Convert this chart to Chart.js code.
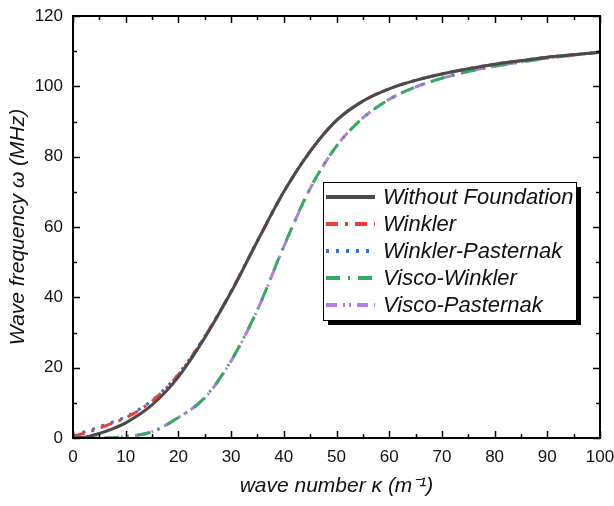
<!DOCTYPE html>
<html lang="en">
  <head>
    <meta charset="UTF-8" />
    <title>Wave frequency vs wave number</title>
    <script src="https://cdn.jsdelivr.net/npm/chart.js"></script>
    <style>
      html, body { margin: 0; padding: 0; background: #fff; }
      #chartContainer { width: 614px; height: 506px; }
    </style>
  </head>

  <body>
    <div id="chartContainer">
      <canvas id="waveChart"></canvas>
    </div>

    <script>
      // wave number (m^-1)
      const kappa = [0, 2.5, 5, 7.5, 10, 15, 20, 25, 30, 35, 40, 45, 50, 55, 60, 65, 70, 75, 80, 85, 90, 95, 100];

      // wave frequency (MHz) per foundation model
      const withoutFoundation = [0, 0.3, 1.3, 2.6, 4.3, 9.4, 17.4, 28.5, 41.5, 56, 70, 81.5, 90.3, 95.8, 99.3, 101.7, 103.5, 105, 106.3, 107.3, 108.3, 109, 109.7];
      const winkler = [0.5, 1.5, 2.8, 4.2, 5.7, 10.5, 18, 28.8, 41.6, 56, 70, 81.5, 90.3, 95.8, 99.3, 101.7, 103.5, 105, 106.3, 107.3, 108.3, 109, 109.7];
      const winklerPasternak = [0.7, 1.9, 3.2, 4.5, 6, 10.7, 18.2, 28.9, 41.7, 56.1, 70, 81.5, 90.3, 95.8, 99.3, 101.7, 103.5, 105, 106.3, 107.3, 108.3, 109, 109.7];
      const viscoWinkler = [0, 0, 0, 0.1, 0.4, 1.8, 5.8, 11.5, 22, 36.5, 54.5, 71, 83, 91, 96.3, 99.8, 102.3, 104.2, 105.7, 106.9, 108, 108.9, 109.7];
      const viscoPasternak = [0, 0, 0, 0.1, 0.4, 1.8, 5.8, 11.4, 21.9, 36.4, 54.4, 70.9, 83, 91, 96.3, 99.8, 102.3, 104.2, 105.7, 106.9, 108, 108.9, 109.7];

      const xTicks = [0, 10, 20, 30, 40, 50, 60, 70, 80, 90, 100];
      const yTicks = [0, 20, 40, 60, 80, 100, 120];

      const seriesNames = ["Without Foundation", "Winkler", "Winkler-Pasternak", "Visco-Winkler", "Visco-Pasternak"];
      const seriesValues = [withoutFoundation, winkler, winklerPasternak, viscoWinkler, viscoPasternak];
      const seriesColors = ["#4a4a4a", "#ec3f3c", "#2d74db", "#35a862", "#b27ce2"];
      const seriesDashes = [[], [12, 7, 3, 7], [3, 7], [14, 8, 2, 8], [11, 6, 2, 4, 2, 6]];

      const datasets = seriesNames.map((name, i) => ({
        label: name,
        data: kappa.map((k, j) => ({ x: k, y: seriesValues[i][j] })),
        borderColor: seriesColors[i],
        borderWidth: 3,
        borderDash: seriesDashes[i],
        pointRadius: 0,
        fill: false,
        cubicInterpolationMode: "monotone",
      }));

      // frame with inward ticks on all four sides
      const framePlugin = {
        id: "frame",
        afterDatasetsDraw(chart) {
          const { ctx, chartArea: a, scales } = chart;
          ctx.save();
          ctx.strokeStyle = "#000";
          ctx.lineWidth = 2;
          ctx.strokeRect(a.left, a.top, a.right - a.left, a.bottom - a.top);
          ctx.lineWidth = 1.5;
          ctx.beginPath();
          for (let v = 0; v <= 100; v += 5) {
            const px = Math.round(scales.x.getPixelForValue(v)) + 0.5;
            const len = v % 10 === 0 ? 7 : 4;
            ctx.moveTo(px, a.bottom); ctx.lineTo(px, a.bottom - len);
            ctx.moveTo(px, a.top); ctx.lineTo(px, a.top + len);
          }
          for (let v = 0; v <= 120; v += 10) {
            const py = Math.round(scales.y.getPixelForValue(v)) + 0.5;
            const len = v % 20 === 0 ? 7 : 4;
            ctx.moveTo(a.left, py); ctx.lineTo(a.left + len, py);
            ctx.moveTo(a.right, py); ctx.lineTo(a.right - len, py);
          }
          ctx.stroke();
          ctx.restore();
        },
      };

      // boxed legend with drop shadow inside the plot
      const legendBoxPlugin = {
        id: "legendBox",
        afterDraw(chart) {
          const ctx = chart.ctx;
          const box = { x: 323, y: 182, w: 253, h: 138 };
          ctx.save();
          ctx.fillStyle = "#000";
          ctx.fillRect(box.x + 5, box.y + 5, box.w, box.h);
          ctx.fillStyle = "#fff";
          ctx.fillRect(box.x, box.y, box.w, box.h);
          ctx.strokeStyle = "#000";
          ctx.lineWidth = 1;
          ctx.strokeRect(box.x + 0.5, box.y + 0.5, box.w, box.h);
          ctx.font = "italic 22px 'Liberation Sans', Arial, sans-serif";
          ctx.textBaseline = "middle";
          chart.data.datasets.forEach((ds, i) => {
            const cy = 197 + i * 27;
            ctx.strokeStyle = ds.borderColor;
            ctx.lineWidth = 4;
            ctx.setLineDash(ds.borderDash);
            ctx.beginPath();
            ctx.moveTo(326, cy);
            ctx.lineTo(375, cy);
            ctx.stroke();
            ctx.setLineDash([]);
            ctx.fillStyle = "#111";
            ctx.fillText(ds.label, 383, cy + 1);
          });
          ctx.restore();
        },
      };

      const tickFont = { family: "'Liberation Sans', Arial, sans-serif", size: 17 };

      new Chart(document.getElementById("waveChart"), {
        type: "line",
        data: { datasets },
        options: {
          responsive: true,
          maintainAspectRatio: false,
          animation: false,
          layout: { padding: { top: 16, right: 14, left: 0, bottom: 0 } },
          plugins: { legend: { display: false }, tooltip: { enabled: false } },
          scales: {
            x: {
              type: "linear",
              min: 0,
              max: 100,
              afterFit: (s) => { s.height = 68; s.paddingLeft = 0; s.paddingRight = 0; },
              afterBuildTicks: (s) => { s.ticks = xTicks.map((v) => ({ value: v })); },
              grid: { display: false, drawTicks: false },
              border: { display: false },
              ticks: { color: "#111", font: tickFont, padding: 9 },
              title: {
                display: true,
                text: "wave number \u03BA (m\u207B\u00B9)",
                color: "#111",
                font: { family: "'Liberation Sans', Arial, sans-serif", size: 21, style: "italic" },
                padding: { bottom: 7 },
              },
            },
            y: {
              min: 0,
              max: 120,
              afterFit: (s) => { s.width = 73; s.paddingTop = 0; s.paddingBottom = 0; },
              afterBuildTicks: (s) => { s.ticks = yTicks.map((v) => ({ value: v })); },
              grid: { display: false, drawTicks: false },
              border: { display: false },
              ticks: { color: "#111", font: tickFont, padding: 10 },
              title: {
                display: true,
                text: "Wave frequency \u03C9 (MHz)",
                color: "#111",
                font: { family: "'Liberation Sans', Arial, sans-serif", size: 21, style: "italic" },
                padding: { top: 6 },
              },
            },
          },
        },
        plugins: [framePlugin, legendBoxPlugin],
      });
    </script>
  </body>
</html>
